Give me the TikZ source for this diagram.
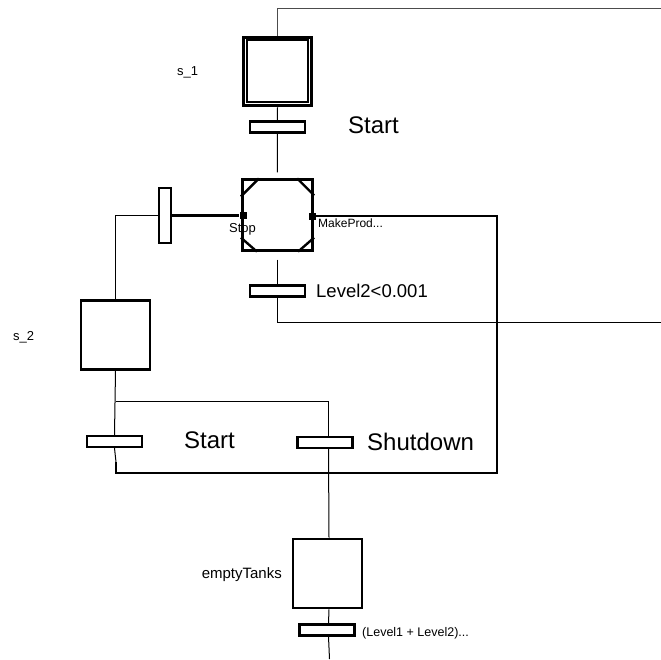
\documentclass[tikz,border=0pt]{standalone}
\usepackage{fontspec}
\setmainfont{Liberation Sans}
\begin{document}
\begin{tikzpicture}[x=1pt,y=-1pt,
  stepbox/.style={draw, line width=2.7pt, minimum size=69pt, inner sep=0pt},
  trans/.style={draw, line width=2.2pt, minimum width=55pt, minimum height=11pt, inner sep=0pt},
  vtrans/.style={draw, line width=2.2pt, minimum width=12pt, minimum height=55pt, inner sep=0pt},
  thinline/.style={line width=1pt},
  thickline/.style={line width=2.6pt},
  port/.style={fill, minimum size=7pt, inner sep=0pt},
  lbl/.style={inner sep=0pt},
  big/.style={lbl, font=\fontsize{24}{28}\selectfont},
  mid/.style={lbl, font=\fontsize{18.5}{22}\selectfont},
  small/.style={lbl, font=\fontsize{13}{15}\selectfont},
  tiny/.style={lbl, font=\fontsize{12}{14}\selectfont}
]
\useasboundingbox (0,0) rectangle (661,659);

% coordinates for free ends and corners
\coordinate (topR) at (661,8);
\coordinate (rightR) at (661,322);
\coordinate (branch) at (116,401);
\coordinate (thickStart) at (116,462);
\coordinate (corner) at (497,473);
\coordinate (bottomEnd) at (328,659);

% labels drawn under the shapes
\node[small, anchor=base west] (lstop) at (229,232) {Stop};

% steps
\node[stepbox, minimum size=68pt, line width=3.5pt] (s1) at (277.5,71.5) {};
\draw[line width=2pt] ([xshift=4.8pt,yshift=-4.5pt]s1.north west) rectangle ([xshift=-5pt,yshift=4.8pt]s1.south east);
\node[stepbox, minimum size=70.5pt] (macro) at (277.5,215) {};
\node[stepbox] (s2) at (115.5,335) {};
\node[stepbox] (empty) at (327.5,573.5) {};

% macro step corners
\draw[line width=2.4pt] ([yshift=-18pt]macro.north west) -- ([xshift=18pt]macro.north west);
\draw[line width=2.4pt] ([xshift=-17pt]macro.north east) -- ([yshift=-17pt]macro.north east);
\draw[line width=2.4pt] ([yshift=14pt]macro.south west) -- ([xshift=16pt]macro.south west);
\draw[line width=2.4pt] ([xshift=-16pt]macro.south east) -- ([yshift=14pt]macro.south east);

% ports
\node[port] (pStop) at (243,215.5) {};
\node[port] (pMake) at (312,216) {};

% transitions
\node[trans] (t1) at (277.4,127) {};
\node[trans] (t2) at (277.5,291) {};
\node[vtrans] (tv) at (165,215.5) {};
\node[trans] (t3) at (114.5,441.5) {};
\node[trans] (t4) at (325,442.5) {};
\node[trans] (t5) at (327,630) {};

% connectors
\draw[thinline, black!70] (s1.north) |- (topR);
\draw[thinline] (s1.south) -- (t1.north);
\draw[thinline, shorten >=6pt] (t1.south) -- (macro.north);
\draw[thinline, shorten <=8pt] (macro.south) -- (t2.north);
\draw[thinline] (t2.south) |- (rightR);
\draw[thickline] (tv.east) -- (pStop);
\draw[thinline] (tv.west) -| (s2.north);
\draw[thinline] (s2.south) -- (t3.north);
\draw[thinline] (branch) -| ([xshift=3.5pt]t4.north);
\draw[thinline] (t3.south) -- (thickStart);
\draw[thickline] (thickStart) |- (corner) |- (pMake);
\draw[thinline] ([xshift=3.5pt]t4.south) -- ([xshift=1.5pt]empty.north);
\draw[thinline] ([xshift=1.5pt]empty.south) -- ([xshift=1.5pt]t5.north);
\draw[thinline] ([xshift=1.5pt]t5.south) -- ([xshift=1.5pt]bottomEnd);

% labels
\node[small, anchor=base west] (ls1) at (177,75) {s\_1};
\node[small, anchor=base west] (ls2) at (13,340) {s\_2};
\node[big, anchor=base west] (lstart1) at (348,133) {Start};
\node[tiny, anchor=base west] (lmake) at (318,227) {MakeProd...};
\node[mid, anchor=base west] (llevel) at (316,297.5) {Level2<0.001};
\node[big, anchor=base west] (lstart2) at (184,448) {Start};
\node[big, anchor=base west] (lshut) at (367,450) {Shutdown};
\node[lbl, font=\fontsize{15}{17}\selectfont, anchor=base east] (lempty) at (282,578) {emptyTanks};
\node[lbl, font=\fontsize{12.5}{14}\selectfont, anchor=base west] (lcond) at (362,636) {(Level1 + Level2)...};
\end{tikzpicture}
\end{document}
